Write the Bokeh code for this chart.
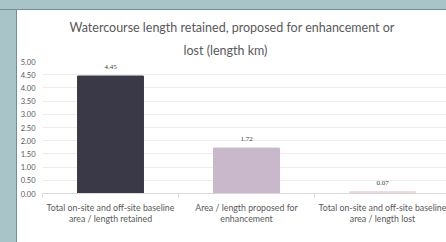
from bokeh.plotting import figure
from bokeh.models import ColumnDataSource, Range1d, FixedTicker, LabelSet, Title, Div
from bokeh.layouts import column, row
from bokeh.embed import file_html
from bokeh.resources import INLINE

# ---- data ----
categories = [
    "Total on-site and off-site baseline\narea / length retained",
    "Area / length proposed for\nenhancement",
    "Total on-site and off-site baseline\narea / length lost",
]
values = [4.45, 1.72, 0.07]
value_labels = ["4.45", "1.72", "0.07"]
bar_colors = ["#3a3947", "#c9b8cc", "#f2d6dc"]
y_ticks = [0.0, 0.5, 1.0, 1.5, 2.0, 2.5, 3.0, 3.5, 4.0, 4.5, 5.0]
title_lines = ["Watercourse length retained, proposed for enhancement or", "lost (length km)"]

FONT = "Lato"
BG = "#a9c4c9"

xs = [i + 0.5 for i in range(len(categories))]
src = ColumnDataSource(dict(x=xs, top=values, color=bar_colors, lab=value_labels))

p = figure(width=429, height=232, output_backend="svg", toolbar_location=None,
           x_range=Range1d(0, 404 / 136), y_range=Range1d(0, 5),
           min_border_left=25, min_border_right=0, min_border_top=51, min_border_bottom=49,
           margin=(0, 0, 0, 0))
p.outline_line_color = None
p.background_fill_color = "white"
p.border_fill_color = "white"

p.vbar(x="x", top="top", width=0.485, color="color", source=src)

p.add_layout(LabelSet(x="x", y="top", text="lab", source=src, y_offset=9,
                      text_align="center", text_baseline="middle",
                      text_font=FONT, text_font_size="7px", text_color="#404040"))

# y axis
p.yaxis.ticker = FixedTicker(ticks=y_ticks)
p.yaxis.major_label_overrides = {t: f"{t:.2f}" for t in y_ticks}
p.yaxis.axis_line_color = None
p.yaxis.major_tick_line_color = None
p.yaxis.major_tick_out = 0
p.yaxis.minor_tick_line_color = None
p.yaxis.minor_tick_out = 0
p.yaxis.major_label_standoff = 7
p.yaxis.major_label_text_font = FONT
p.yaxis.major_label_text_font_size = "7.5px"
p.yaxis.major_label_text_color = "#595959"

p.ygrid.grid_line_color = "#ececec"
p.ygrid.ticker = FixedTicker(ticks=y_ticks)
p.xgrid.grid_line_color = None

# x axis
p.xaxis.ticker = FixedTicker(ticks=xs, minor_ticks=[0, 1, 2, 3])
p.xaxis.major_label_overrides = {x: c for x, c in zip(xs, categories)}
p.xaxis.axis_line_color = "#d9d9d9"
p.xaxis.major_tick_line_color = None
p.xaxis.major_tick_out = 0
p.xaxis.minor_tick_line_color = "#d9d9d9"
p.xaxis.minor_tick_out = 4
p.xaxis.minor_tick_in = 0
p.xaxis.major_label_standoff = 4
p.xaxis.major_label_text_font = FONT
p.xaxis.major_label_text_font_size = "8.8px"
p.xaxis.major_label_text_line_height = 1.05
p.xaxis.major_label_text_color = "#595959"

# title (two lines, the last added sits on top)
p.add_layout(Title(text=title_lines[1], align="left", offset=141, text_font=FONT,
                   text_font_size="12.5px", text_font_style="normal",
                   text_color="#595959", standoff=8), "above")
p.add_layout(Title(text=title_lines[0], align="left", offset=27, text_font=FONT,
                   text_font_size="12.5px", text_font_style="normal",
                   text_color="#595959", standoff=3), "above")

top_strip = Div(width=446, height=10, margin=(0, 0, 0, 0),
                styles={"background-color": BG, "border-bottom": "1px solid #7b8c90",
                        "box-sizing": "border-box"})
left_strip = Div(width=17, height=232, margin=(0, 0, 0, 0),
                 styles={"background-color": BG, "border-right": "1px solid #7b8c90",
                         "box-sizing": "border-box"})
layout = column(top_strip, row(left_strip, p, spacing=0, margin=(0, 0, 0, 0)),
                spacing=0, margin=(0, 0, 0, 0))

open("out.html", "w").write(file_html(layout, INLINE))
